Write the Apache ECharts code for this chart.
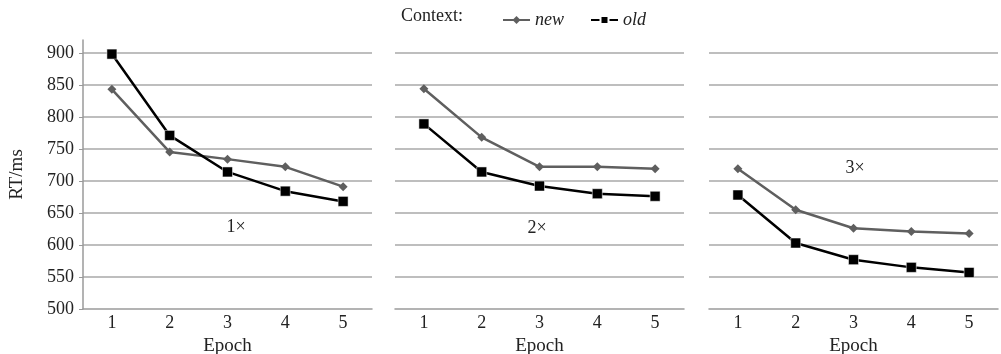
<!DOCTYPE html>
<html>
<head>
<meta charset="utf-8">
<script src="https://cdn.jsdelivr.net/npm/echarts@6/dist/echarts.min.js"></script>
<style>
html, body { margin: 0; padding: 0; background: #fff; }
#main { width: 1001px; height: 354px; }
</style>
</head>
<body>
<div id="main"></div>
<script>
var epochs = ['1', '2', '3', '4', '5'];
var panelLabels = ['1\u00d7', '2\u00d7', '3\u00d7'];
// RT in ms, one array per panel
var newRT = [
    [843, 745, 734, 722, 691],
    [844, 768, 722, 722, 719],
    [719, 655, 626, 621, 618]
];
var oldRT = [
    [898, 771, 714, 684, 668],
    [789, 714, 692, 680, 676],
    [678, 603, 577, 565, 557]
];

var myChart = echarts.init(document.getElementById('main'));
var font = 'Liberation Serif';
var gridLefts = [83, 395, 709];
var labelPos = [[236, 227], [537, 228], [855, 168]];

var grids = [], xAxes = [], yAxes = [], series = [], graphics = [];
for (var i = 0; i < 3; i++) {
    grids.push({ left: gridLefts[i], width: 289, top: 40, height: 269, outerBoundsMode: 'none' });
    xAxes.push({
        type: 'category', gridIndex: i, data: epochs,
        name: 'Epoch', nameLocation: 'middle', nameGap: 21,
        nameTextStyle: { fontFamily: font, fontSize: 19, color: '#222' },
        axisLine: { lineStyle: { color: '#9a9a9a', width: 1.5 } },
        axisTick: { show: false },
        axisLabel: { fontFamily: font, fontSize: 18, color: '#222', margin: 5 }
    });
    yAxes.push({
        type: 'value', gridIndex: i, min: 500, max: 920, interval: 50,
        name: i === 0 ? 'RT/ms' : '', nameLocation: 'middle', nameGap: 56,
        nameTextStyle: { fontFamily: font, fontSize: 19, color: '#222' },
        axisLine: { show: i === 0, lineStyle: { color: '#9a9a9a', width: 1.5 } },
        axisTick: { show: i === 0, length: 4, lineStyle: { color: '#9a9a9a' } },
        axisLabel: { show: i === 0, showMaxLabel: false, fontFamily: font, fontSize: 18, color: '#222', margin: 9 },
        splitLine: { show: true, showMaxLine: false, showMinLine: false, lineStyle: { color: '#a8a8a8', width: 1.5 } }
    });
    series.push({
        name: 'new', type: 'line', xAxisIndex: i, yAxisIndex: i,
        data: newRT[i], symbol: 'diamond', symbolSize: 9,
        lineStyle: { color: '#5f5f5f', width: 2.5 },
        itemStyle: { color: '#5f5f5f' }
    });
    series.push({
        name: 'old', type: 'line', xAxisIndex: i, yAxisIndex: i,
        data: oldRT[i], symbol: 'rect', symbolSize: 10,
        lineStyle: { color: '#000', width: 2.5 },
        itemStyle: { color: '#000', borderColor: '#fff', borderWidth: 0.5 }
    });
    graphics.push({
        type: 'text', x: labelPos[i][0], y: labelPos[i][1],
        style: { text: panelLabels[i], font: '18px ' + font, fill: '#222', align: 'center', verticalAlign: 'middle' }
    });
}
graphics.push({
    type: 'text', x: 401, y: 16,
    style: { text: 'Context:', font: '18px ' + font, fill: '#222', verticalAlign: 'middle' }
});

var option = {
    animation: false,
    legend: {
        data: ['new', 'old'], left: 497, top: 6, itemWidth: 27, itemHeight: 10, itemGap: 26,
        textStyle: { fontFamily: font, fontSize: 18, fontStyle: 'italic', color: '#222' }
    },
    grid: grids,
    xAxis: xAxes,
    yAxis: yAxes,
    series: series,
    graphic: graphics
};
myChart.setOption(option);
</script>
</body>
</html>
